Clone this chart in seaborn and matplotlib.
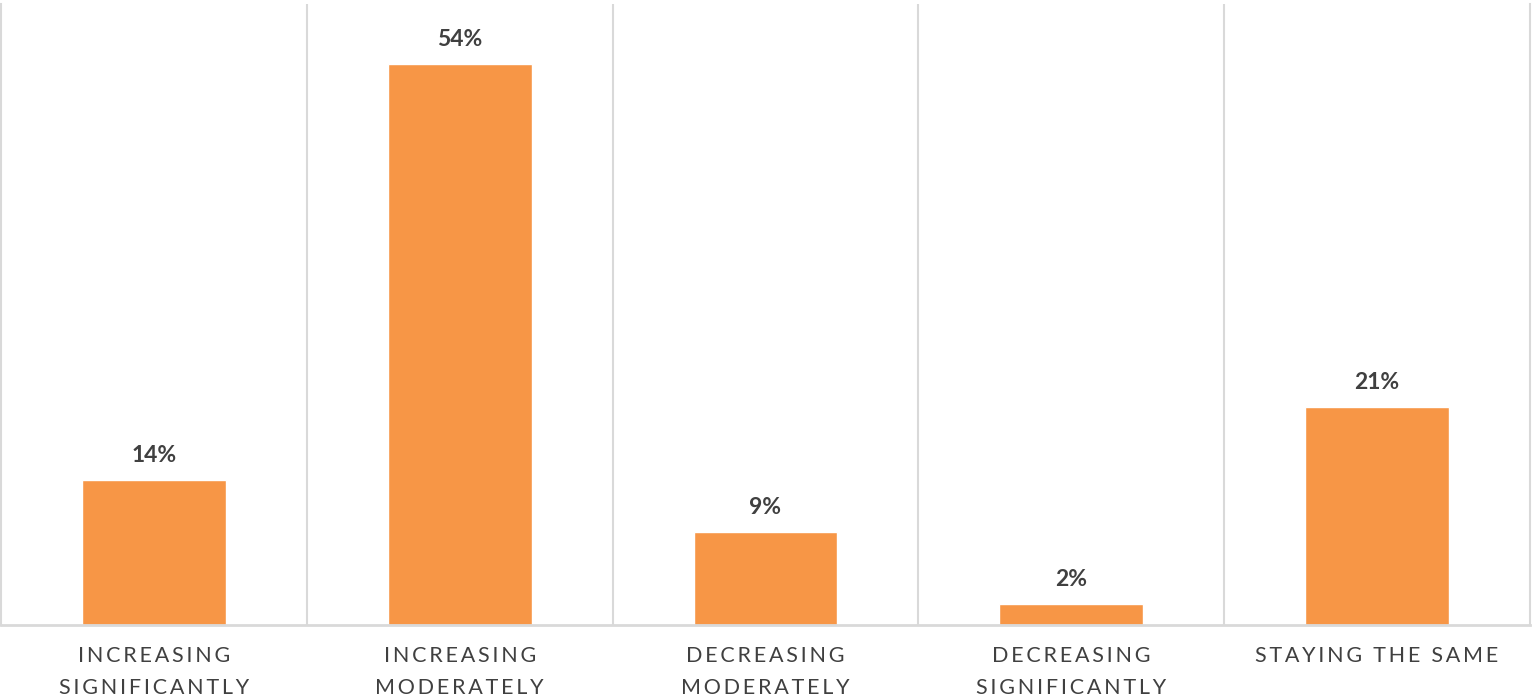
import matplotlib
matplotlib.use("Agg")
import matplotlib.pyplot as plt
import seaborn as sns
import pandas as pd

categories = ["INCREASING\nSIGNIFICANTLY", "INCREASING\nMODERATELY", "DECREASING\nMODERATELY",
              "DECREASING\nSIGNIFICANTLY", "STAYING THE SAME"]
values = [14, 54, 9, 2, 21]

def spaced(s):
    return "\n".join("\u2009".join(list(line)) for line in s.split("\n"))

sns.set_theme(style="white")
plt.rcParams['font.family'] = ['Lato', 'DejaVu Sans']

df = pd.DataFrame({"cat": categories, "val": values})

fig = plt.figure(figsize=(15.32, 6.96), dpi=100)
ax = fig.add_axes([1/1532, 71/696, 1529/1532, 621/696])

sns.barplot(data=df, x="cat", y="val", color="#F79646", saturation=1, width=0.47, ax=ax)

ax.set_ylim(0, 59.8)
ax.set_xlim(-0.5, len(categories) - 0.5)
ax.set_yticks([])
ax.set_xlabel("")
ax.set_ylabel("")

ax.set_xticks(range(len(categories)))
ax.set_xticklabels([spaced(c) for c in categories], fontsize=15.5, color="#404040",
                   linespacing=1.75)
ax.tick_params(axis="x", length=0, pad=15)

ax.set_xticks([i - 0.5 for i in range(1, len(categories))], minor=True)
ax.grid(True, which="minor", axis="x", color="#d9d9d9", linewidth=1.5)
ax.tick_params(axis="x", which="minor", length=0)

for side in ["left", "right"]:
    ax.spines[side].set_color("#d9d9d9")
    ax.spines[side].set_linewidth(1.5)
ax.spines["top"].set_visible(False)
ax.spines["bottom"].set_color("#d9d9d9")
ax.spines["bottom"].set_linewidth(2)

for cont in ax.containers:
    ax.bar_label(cont, labels=[f"{v}%" for v in values], padding=10,
                 fontsize=16.5, fontweight="bold", color="#404040")

fig.savefig("out.png", dpi=100)
